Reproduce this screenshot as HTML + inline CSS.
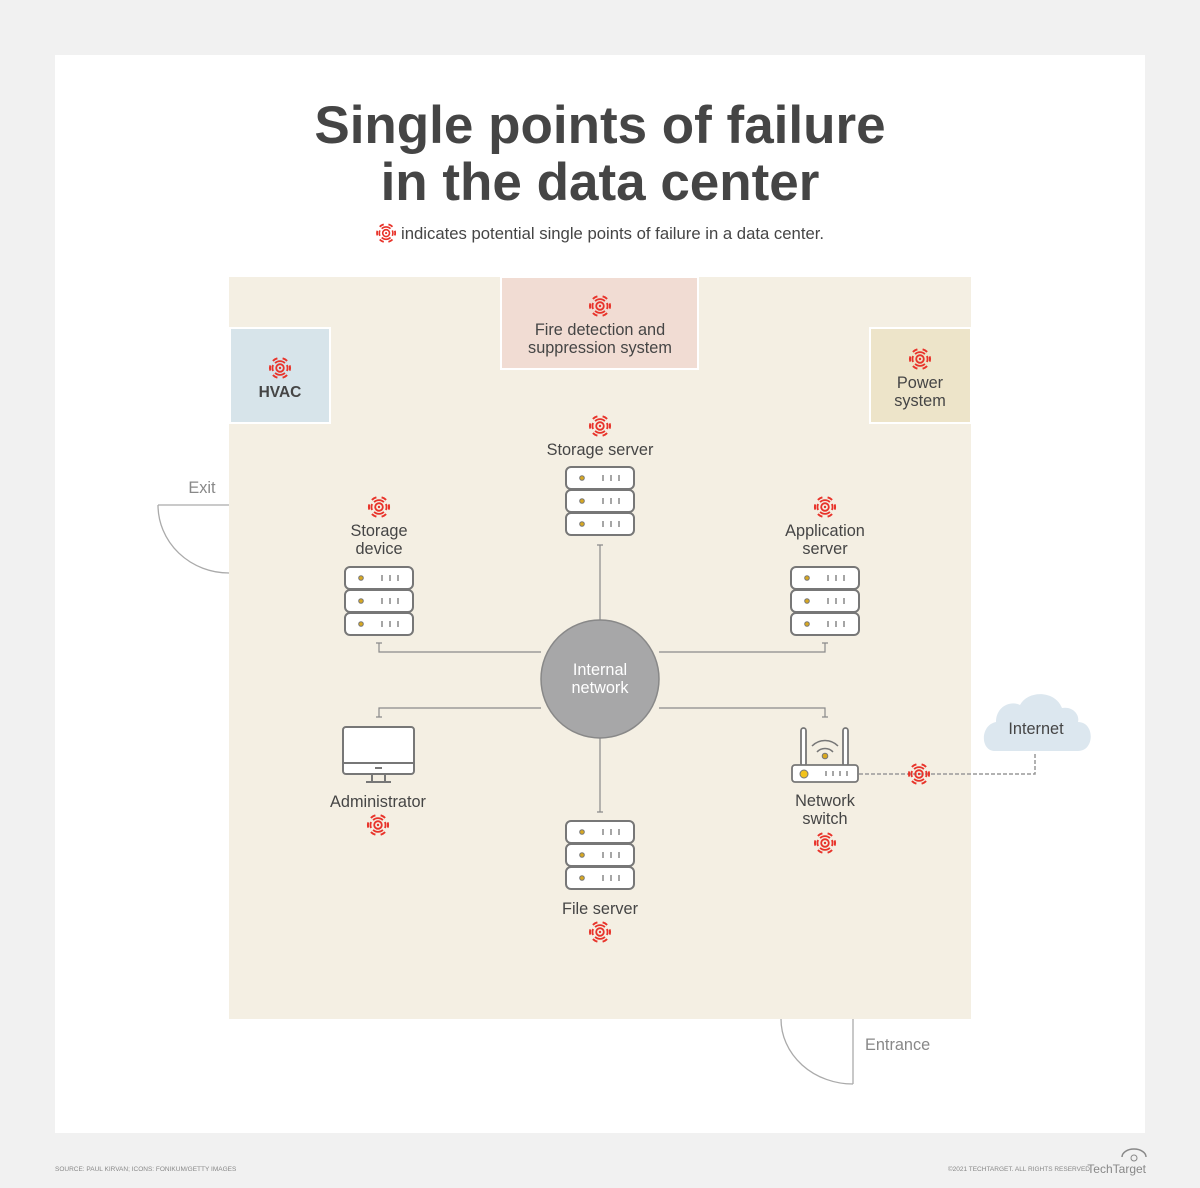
<!DOCTYPE html>
<html><head><meta charset="utf-8"><style>
html,body{margin:0;padding:0;background:#f1f1f1;}
svg{display:block}
text{font-family:"Liberation Sans","DejaVu Sans",sans-serif;fill:#454545}
.l{font-size:16.3px}
</style></head><body>
<svg width="1200" height="1188" viewBox="0 0 1200 1188" xmlns="http://www.w3.org/2000/svg">
<defs>
<g id="ic" fill="none" stroke="#e8332a" stroke-width="1.8">
<circle cx="0" cy="0" r="3.8"/><circle cx="0" cy="0" r="1.2" fill="#e8332a" stroke="none"/>
<path d="M-4.9,-4.9 A7,7 0 0 1 4.9,-4.9 M4.9,4.9 A7,7 0 0 1 -4.9,4.9"/>
<path d="M-7.1,-7.1 A10,10 0 0 1 -2.6,-9.7 M2.6,-9.7 A10,10 0 0 1 7.1,-7.1 M9.7,-2.6 A10,10 0 0 1 9.7,2.6 M7.1,7.1 A10,10 0 0 1 2.6,9.7 M-2.6,9.7 A10,10 0 0 1 -7.1,7.1 M-9.7,2.6 A10,10 0 0 1 -9.7,-2.6" stroke-width="2"/>
<path d="M-6.9,-3 A7.5,7.5 0 0 0 -6.9,3 M6.9,-3 A7.5,7.5 0 0 1 6.9,3"/>
</g>
<g id="srv">
<g fill="#fff" stroke="#777" stroke-width="2">
<rect x="-34" y="0" width="68" height="22" rx="5"/>
<rect x="-34" y="23" width="68" height="22" rx="5"/>
<rect x="-34" y="46" width="68" height="22" rx="5"/>
</g>
<g fill="#d9a81f" stroke="#777" stroke-width="1"><circle cx="-18" cy="11" r="2.3"/><circle cx="-18" cy="34" r="2.3"/><circle cx="-18" cy="57" r="2.3"/></g>
<g stroke="#777" stroke-width="1.3"><path d="M3,8v6M11,8v6M19,8v6M3,31v6M11,31v6M19,31v6M3,54v6M11,54v6M19,54v6"/></g>
</g>
</defs>
<rect x="55" y="55" width="1090" height="1078" fill="#fff"/>
<text x="600" y="143" font-size="53" font-weight="bold" text-anchor="middle">Single points of failure</text>
<text x="600" y="200" font-size="53" font-weight="bold" text-anchor="middle">in the data center</text>
<use href="#ic" x="386" y="233" transform="scale(0.9) translate(43 26)"/>
<text x="401" y="239" font-size="16.7">indicates potential single points of failure in a data center.</text>
<rect x="229" y="277" width="742" height="742" fill="#f4efe3"/>
<rect x="230" y="328" width="100" height="95" fill="#d7e4ea" stroke="#fff" stroke-width="2"/>
<use href="#ic" x="280" y="368"/>
<text x="280" y="397" font-size="15.5" font-weight="bold" text-anchor="middle">HVAC</text>
<rect x="501" y="277" width="197" height="92" fill="#f1dcd3" stroke="#fff" stroke-width="2"/>
<use href="#ic" x="600" y="306"/>
<text x="600" y="335" class="l" text-anchor="middle">Fire detection and</text>
<text x="600" y="353" class="l" text-anchor="middle">suppression system</text>
<rect x="870" y="328" width="101" height="95" fill="#ede4c9" stroke="#fff" stroke-width="2"/>
<use href="#ic" x="920" y="359"/>
<text x="920" y="388" class="l" text-anchor="middle">Power</text>
<text x="920" y="406" class="l" text-anchor="middle">system</text>
<path d="M158,505 H229 M158,505 A71,68 0 0 0 229,573" fill="none" stroke="#aaa" stroke-width="1.3"/>
<text x="202" y="493" class="l" text-anchor="middle" style="fill:#888">Exit</text>
<path d="M853,1019 V1084 M781,1019 A72,65 0 0 0 853,1084" fill="none" stroke="#aaa" stroke-width="1.3"/>
<text x="865" y="1050" class="l" style="fill:#888">Entrance</text>
<g stroke="#8a8a8a" stroke-width="1.2" fill="none">
<path d="M600,545 V620 M597,545 H603"/>
<path d="M379,643 V652 H541 M376,643 H382"/>
<path d="M825,643 V652 H659 M822,643 H828"/>
<path d="M379,717 V708 H541 M376,717 H382"/>
<path d="M825,717 V708 H659 M822,717 H828"/>
<path d="M600,738 V812 M597,812 H603"/>
</g>
<circle cx="600" cy="679" r="59" fill="#a7a7a8" stroke="#888" stroke-width="1.5"/>
<text x="600" y="675" class="l" text-anchor="middle" style="fill:#fff">Internal</text>
<text x="600" y="693" class="l" text-anchor="middle" style="fill:#fff">network</text>
<use href="#ic" x="600" y="426"/>
<text x="600" y="455" class="l" text-anchor="middle">Storage server</text>
<use href="#srv" x="600" y="467"/>
<use href="#ic" x="379" y="507"/>
<text x="379" y="536" class="l" text-anchor="middle">Storage</text>
<text x="379" y="554" class="l" text-anchor="middle">device</text>
<use href="#srv" x="379" y="567"/>
<use href="#ic" x="825" y="507"/>
<text x="825" y="536" class="l" text-anchor="middle">Application</text>
<text x="825" y="554" class="l" text-anchor="middle">server</text>
<use href="#srv" x="825" y="567"/>
<use href="#srv" x="600" y="821"/>
<text x="600" y="914" class="l" text-anchor="middle">File server</text>
<use href="#ic" x="600" y="932"/>
<g fill="none" stroke="#777" stroke-width="2">
<rect x="343" y="727" width="71" height="47" rx="3" fill="#fff"/>
<path d="M343,763 H414"/>
<path d="M372,774 V781 M385,774 V781 M366,782 H391"/>
</g>
<path d="M375,768 H382" stroke="#777" stroke-width="2"/>
<text x="378" y="807" class="l" text-anchor="middle">Administrator</text>
<use href="#ic" x="378" y="825"/>
<g fill="#fff" stroke="#777" stroke-width="1.8">
<rect x="801" y="728" width="5" height="38" rx="2.5"/>
<rect x="843" y="728" width="5" height="38" rx="2.5"/>
<rect x="792" y="765" width="66" height="17" rx="3"/>
</g>
<path d="M812,746 A18,18 0 0 1 838,746 M817,752 A11,11 0 0 1 833,752" fill="none" stroke="#777" stroke-width="1.5"/>
<circle cx="825" cy="756" r="2.8" fill="#d9a81f" stroke="#777"/>
<circle cx="804" cy="774" r="4" fill="#f2c21b" stroke="#777"/>
<path d="M826,771v5M833,771v5M840,771v5M847,771v5" stroke="#777" stroke-width="1.3"/>
<text x="825" y="806" class="l" text-anchor="middle">Network</text>
<text x="825" y="824" class="l" text-anchor="middle">switch</text>
<use href="#ic" x="825" y="843"/>
<path d="M859,774 H1035 V752" fill="none" stroke="#999" stroke-width="1.5" stroke-dasharray="4,2"/>
<use href="#ic" x="919" y="774"/>
<path d="M995,751 C980,751 980,725 996,722 C996,707 1010,700 1020,705 C1028,690 1055,690 1062,708 C1072,706 1080,714 1078,722 C1095,722 1095,751 1078,751 Z" fill="#dce7ef"/>
<text x="1036" y="734" class="l" text-anchor="middle">Internet</text>
<text x="55" y="1171" font-size="6.5" style="fill:#888">SOURCE: PAUL KIRVAN; ICONS: FONIKUM/GETTY IMAGES</text>
<text x="1090" y="1171" font-size="6.5" text-anchor="end" style="fill:#888">©2021 TECHTARGET. ALL RIGHTS RESERVED</text>
<text x="1146" y="1173" font-size="12" text-anchor="end" style="fill:#888">TechTarget</text>
<path d="M1122,1157 A12,8 0 0 1 1146,1157" fill="none" stroke="#888" stroke-width="1.5"/>
<circle cx="1134" cy="1158" r="3" fill="none" stroke="#888"/>
</svg>
</body></html>
